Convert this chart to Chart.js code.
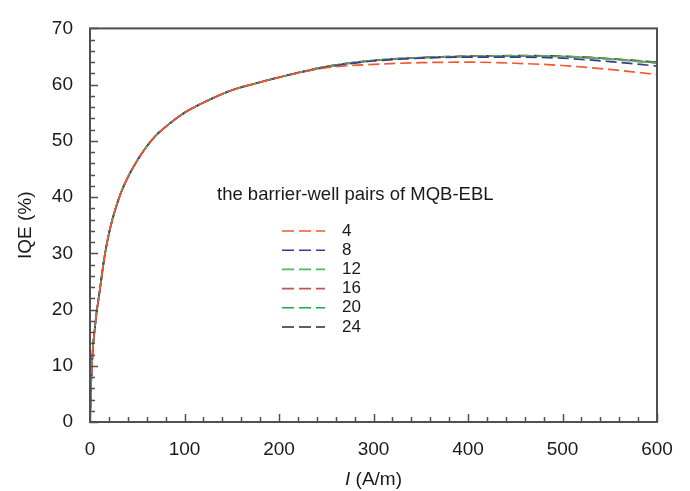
<!DOCTYPE html>
<html>
<head>
<meta charset="utf-8">
<script src="https://cdn.jsdelivr.net/npm/chart.js@4"></script>
<style>
  html, body { margin: 0; padding: 0; background: #fff; }
  #wrap { width: 690px; height: 491px; }
</style>
</head>
<body>
<div id="wrap"><canvas id="iqeChart"></canvas></div>
<script>
// current density (A/m)
const current = [0, 1, 2, 3, 5, 7, 10, 15, 20, 30, 40, 50, 60, 70, 80, 100, 125, 150, 175, 200, 250, 300, 350, 400, 450, 500, 550, 600];

// common low-current part of every curve (up to 250 A/m)
const lowPart = [0, 6, 10, 13, 16.5, 19.5, 23, 29, 33.5, 39.5, 43.5, 46.5, 49, 51, 52.5, 55, 57.2, 59.0, 60.2, 61.3];

const iqe4  = lowPart.concat([63.0, 63.6, 63.9, 64.0, 63.8, 63.4, 62.7, 61.8]);
const iqe8  = lowPart.concat([63.1, 64.2, 64.7, 64.9, 64.9, 64.7, 64.1, 63.3]);
const iqe12 = lowPart.concat([63.2, 64.3, 64.8, 65.0, 65.1, 65.0, 64.5, 63.8]);
const iqe16 = lowPart.concat([63.2, 64.3, 64.8, 65.05, 65.1, 65.0, 64.6, 63.9]);
const iqe20 = lowPart.concat([63.2, 64.3, 64.8, 65.05, 65.1, 65.0, 64.6, 63.9]);
const iqe24 = lowPart.concat([63.2, 64.3, 64.8, 65.05, 65.15, 65.05, 64.6, 64.0]);

const pairLabels = ['4', '8', '12', '16', '20', '24'];
const pairColors = ['#f0592e', '#3a3a96', '#4dbb62', '#cc5252', '#10b050', '#2a2a2a'];
const series = [iqe4, iqe8, iqe12, iqe16, iqe20, iqe24];

const xTicks = [0, 100, 200, 300, 400, 500, 600];
const yTicks = [0, 10, 20, 30, 40, 50, 60, 70];

const FONT = '"Liberation Sans", Arial, sans-serif';

const datasets = series.map((vals, i) => ({
    label: pairLabels[i],
    data: vals.map((v, k) => ({ x: current[k], y: v })),
    borderColor: pairColors[i],
    borderWidth: 1.7,
    borderDash: [11, 5],
    borderDashOffset: i * 2,
    pointRadius: 0,
    fill: false,
    cubicInterpolationMode: 'monotone'
}));

// frame, inward ticks, legend and axis titles
const decorPlugin = {
    id: 'decor',
    afterDraw(chart) {
        const ctx = chart.ctx;
        const a = chart.chartArea;
        const xs = chart.scales.x, ys = chart.scales.y;
        ctx.save();
        ctx.strokeStyle = '#505050';
        ctx.lineWidth = 1.5;

        // minor + major ticks, pointing inward
        ctx.beginPath();
        for (let v = 0; v <= 600; v += 20) {
            const px = Math.round(xs.getPixelForValue(v)) + 0.5;
            const len = v % 100 === 0 ? 8 : 5;
            ctx.moveTo(px, a.bottom);
            ctx.lineTo(px, a.bottom - len);
        }
        for (let v = 0; v <= 70; v += 2) {
            const py = Math.round(ys.getPixelForValue(v)) + 0.5;
            const len = v % 10 === 0 ? 8 : 5;
            ctx.moveTo(a.left, py);
            ctx.lineTo(a.left + len, py);
        }
        ctx.stroke();

        ctx.lineWidth = 2;
        ctx.strokeRect(a.left, a.top, a.right - a.left, a.bottom - a.top);

        // legend
        ctx.fillStyle = '#1a1a1a';
        ctx.textBaseline = 'middle';
        ctx.textAlign = 'left';
        ctx.font = '18.5px ' + FONT;
        ctx.fillText('the barrier-well pairs of MQB-EBL', 217, 195);
        ctx.font = '17px ' + FONT;
        chart.data.datasets.forEach((ds, i) => {
            const y = 231 + i * 19.2;
            ctx.strokeStyle = ds.borderColor;
            ctx.lineWidth = 1.6;
            ctx.setLineDash([12, 5]);
            ctx.beginPath();
            ctx.moveTo(282, y);
            ctx.lineTo(325, y);
            ctx.stroke();
            ctx.setLineDash([]);
            ctx.fillText(ds.label, 342, y);
        });

        // axis titles
        ctx.textAlign = 'center';
        ctx.font = '19px ' + FONT;
        ctx.save();
        ctx.translate(26, (a.top + a.bottom) / 2);
        ctx.rotate(-Math.PI / 2);
        ctx.fillText('IQE (%)', 0, 0);
        ctx.restore();

        const tail = ' (A/m)';
        ctx.font = 'italic 19px ' + FONT;
        const wI = ctx.measureText('I').width;
        ctx.font = '19px ' + FONT;
        const wT = ctx.measureText(tail).width;
        const x0 = (a.left + a.right) / 2 - (wI + wT) / 2;
        ctx.textAlign = 'left';
        ctx.font = 'italic 19px ' + FONT;
        ctx.fillText('I', x0, 480);
        ctx.font = '19px ' + FONT;
        ctx.fillText(tail, x0 + wI, 480);
        ctx.restore();
    }
};

new Chart(document.getElementById('iqeChart'), {
    type: 'line',
    data: { datasets: datasets },
    options: {
        responsive: true,
        maintainAspectRatio: false,
        animation: false,
        layout: { padding: { left: 0, right: 33, top: 15, bottom: 0 } },
        plugins: { legend: { display: false }, tooltip: { enabled: false } },
        scales: {
            x: {
                type: 'linear',
                min: 0, max: 600,
                afterBuildTicks: s => { s.ticks = xTicks.map(v => ({ value: v })); },
                afterFit: s => { s.height = 69; },
                grid: { display: false, drawTicks: false },
                border: { display: false },
                ticks: { color: '#1a1a1a', padding: 16, maxRotation: 0, font: { family: FONT, size: 19 } }
            },
            y: {
                min: 0, max: 70,
                afterBuildTicks: s => { s.ticks = yTicks.map(v => ({ value: v })); },
                afterFit: s => { s.width = 90; },
                grid: { display: false, drawTicks: false },
                border: { display: false },
                ticks: { color: '#1a1a1a', padding: 17, font: { family: FONT, size: 19 } }
            }
        }
    },
    plugins: [decorPlugin]
});
</script>
</body>
</html>
